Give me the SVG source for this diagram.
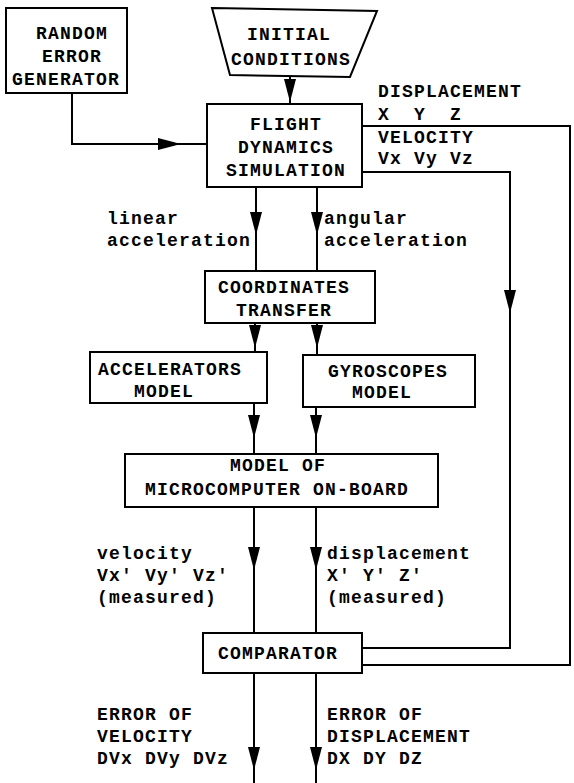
<svg xmlns="http://www.w3.org/2000/svg" width="574" height="783" viewBox="0 0 574 783">
<style>
text{font-family:"Liberation Mono","Courier New",monospace;font-weight:bold;font-size:18px;letter-spacing:1.2px;fill:#000}
.box{fill:#fff;stroke:#000;stroke-width:2}
.ln{fill:none;stroke:#000;stroke-width:2}
</style>
<defs>
<path id="ah" d="M-6,0 L6,0 L0,23 Z" fill="#000"/>
</defs>
<rect width="574" height="783" fill="#fff"/>
<g id="connectors">
<polyline class="ln" points="72,93 72,144 207,144"/>
<use href="#ah" transform="translate(158,144) rotate(-90)"/>
<line class="ln" x1="290" y1="77" x2="290" y2="104"/>
<use href="#ah" x="290" y="79"/>
<polyline class="ln" points="362,126 570,126 570,665 362,665"/>
<polyline class="ln" points="362,172 510,172 510,648 362,648"/>
<use href="#ah" x="510" y="290"/>
<line class="ln" x1="256" y1="187" x2="256" y2="271"/>
<line class="ln" x1="317" y1="187" x2="317" y2="271"/>
<use href="#ah" x="256" y="212"/>
<use href="#ah" x="317" y="212"/>
<line class="ln" x1="255" y1="323" x2="255" y2="352"/>
<line class="ln" x1="317" y1="323" x2="317" y2="355"/>
<use href="#ah" x="255" y="325"/>
<use href="#ah" x="317" y="325"/>
<line class="ln" x1="254" y1="403" x2="254" y2="454"/>
<line class="ln" x1="316" y1="407" x2="316" y2="454"/>
<use href="#ah" x="254" y="415"/>
<use href="#ah" x="316" y="415"/>
<line class="ln" x1="254" y1="507" x2="254" y2="633"/>
<line class="ln" x1="316" y1="507" x2="316" y2="633"/>
<use href="#ah" x="254" y="547"/>
<use href="#ah" x="316" y="547"/>
<line class="ln" x1="254" y1="673" x2="254" y2="783"/>
<line class="ln" x1="316" y1="673" x2="316" y2="783"/>
<use href="#ah" x="254" y="747"/>
<use href="#ah" x="316" y="747"/>
</g>
<g id="labels">
<text x="378" y="97">DISPLACEMENT</text>
<text x="378" y="120" xml:space="preserve">X  Y  Z</text>
<text x="378" y="143">VELOCITY</text>
<text x="378" y="164">Vx Vy Vz</text>
<text x="107" y="224">linear</text>
<text x="107" y="246">acceleration</text>
<text x="324" y="224">angular</text>
<text x="324" y="246">acceleration</text>
<text x="97" y="559">velocity</text>
<text x="97" y="581">Vx' Vy' Vz'</text>
<text x="97" y="603">(measured)</text>
<text x="327" y="559">displacement</text>
<text x="327" y="581">X' Y' Z'</text>
<text x="327" y="603">(measured)</text>
<text x="97" y="720">ERROR OF</text>
<text x="97" y="742">VELOCITY</text>
<text x="97" y="764">DVx DVy DVz</text>
<text x="327" y="720">ERROR OF</text>
<text x="327" y="742">DISPLACEMENT</text>
<text x="327" y="764">DX DY DZ</text>
</g>
<g id="random">
<rect class="box" x="6" y="8" width="121" height="85"/>
<text x="36" y="39">RANDOM</text>
<text x="42" y="62">ERROR</text>
<text x="12" y="85">GENERATOR</text>
</g>
<g id="initial">
<polygon class="box" points="212,8 377,11 350,77 230,75"/>
<text x="247" y="40">INITIAL</text>
<text x="231" y="65">CONDITIONS</text>
</g>
<g id="flight">
<rect class="box" x="207" y="104" width="155" height="83"/>
<text x="250" y="130">FLIGHT</text>
<text x="238" y="153">DYNAMICS</text>
<text x="226" y="176">SIMULATION</text>
</g>
<g id="coordinates">
<rect class="box" x="205" y="271" width="170" height="52"/>
<text x="218" y="293">COORDINATES</text>
<text x="236" y="316">TRANSFER</text>
</g>
<g id="accelerators">
<rect class="box" x="90" y="352" width="177" height="51"/>
<text x="98" y="375">ACCELERATORS</text>
<text x="134" y="397">MODEL</text>
</g>
<g id="gyroscopes">
<rect class="box" x="303" y="355" width="172" height="52"/>
<text x="328" y="377">GYROSCOPES</text>
<text x="352" y="398">MODEL</text>
</g>
<g id="microcomputer">
<rect class="box" x="125" y="454" width="313" height="53"/>
<text x="230" y="471">MODEL OF</text>
<text x="145" y="495">MICROCOMPUTER ON-BOARD</text>
</g>
<g id="comparator">
<rect class="box" x="203" y="633" width="159" height="40"/>
<text x="218" y="659">COMPARATOR</text>
</g>
</svg>
